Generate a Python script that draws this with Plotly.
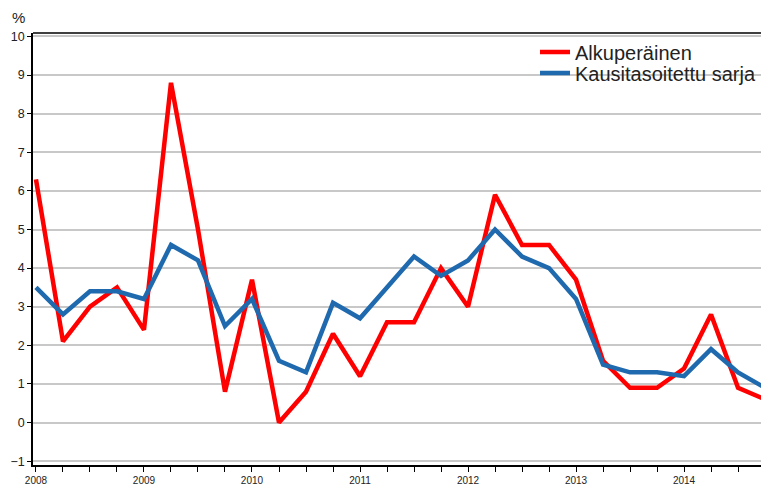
import plotly.graph_objects as go

years = ["2008", "2009", "2010", "2011", "2012", "2013", "2014"]
quarters = list(range(28))  # 2008Q1 .. 2014Q4
alkuperainen = [6.3, 2.1, 3.0, 3.5, 2.4, 8.8, 5.0, 0.8, 3.7, 0.0, 0.8, 2.3, 1.2, 2.6,
                2.6, 4.0, 3.0, 5.9, 4.6, 4.6, 3.7, 1.6, 0.9, 0.9, 1.4, 2.8, 0.9, 0.6]
kausitasoitettu = [3.5, 2.8, 3.4, 3.4, 3.2, 4.6, 4.2, 2.5, 3.2, 1.6, 1.3, 3.1, 2.7, 3.5,
                   4.3, 3.8, 4.2, 5.0, 4.3, 4.0, 3.2, 1.5, 1.3, 1.3, 1.2, 1.9, 1.3, 0.9]
y_ticks = list(range(-1, 11))

tick_text = []
for q in quarters:
    tick_text.append(years[q // 4] if q % 4 == 0 else "")

fig = go.Figure()
fig.add_trace(go.Scatter(x=quarters, y=alkuperainen, mode="lines", name="Alkuperäinen",
                         line=dict(color="#FF0000", width=4.5), legend="legend"))
fig.add_trace(go.Scatter(x=quarters, y=kausitasoitettu, mode="lines", name="Kausitasoitettu sarja",
                         line=dict(color="#1F69AE", width=4.5), legend="legend2"))

W = 728.0
H = 432.0
leg_x = (535 - 33) / W
leg_common = dict(xanchor="left", yanchor="middle", bgcolor="rgba(0,0,0,0)",
                  font=dict(size=20, color="#222222"), borderwidth=0)
fig.update_layout(
    width=761, height=486,
    margin=dict(l=33, r=0, t=33, b=21, autoexpand=False),
    paper_bgcolor="white", plot_bgcolor="white",
    font=dict(family="Liberation Sans, Arial, sans-serif", color="#222222"),
    showlegend=True,
    legend=dict(x=leg_x, y=(465 - 52) / H, **leg_common),
    legend2=dict(x=leg_x, y=(465 - 73) / H, **leg_common),
    xaxis=dict(range=[-0.11, 26.85], tickmode="array", tickvals=quarters, ticktext=tick_text,
               showgrid=False, zeroline=False, showline=True, linecolor="black", linewidth=1.5,
               ticks="outside", ticklen=5, tickcolor="black", tickwidth=1, automargin=False,
               tickfont=dict(size=10, color="#222222")),
    yaxis=dict(range=[-1.1, 10.09], tickmode="array", tickvals=y_ticks,
               showgrid=True, gridcolor="#C8C8C8", gridwidth=1.5, zeroline=False,
               showline=True, linecolor="black", linewidth=1.5, automargin=False,
               ticks="outside", ticklen=4, tickcolor="black",
               tickfont=dict(size=12.5, color="#222222")),
    shapes=[
        dict(type="rect", xref="paper", yref="paper", x0=(497 - 33) / W, x1=1.0,
             y0=(465 - 95) / H, y1=1.0, fillcolor="white", line=dict(width=0), layer="between"),
        dict(type="line", xref="paper", yref="paper", x0=0, x1=1, y0=1, y1=1,
             line=dict(color="black", width=1.5)),
    ],
    annotations=[
        dict(text="%", xref="paper", yref="paper", x=(10 - 33) / W, y=1 + 16 / H,
             xanchor="left", yanchor="middle", showarrow=False,
             font=dict(size=15, color="#222222")),
    ],
)

fig.write_html("out.html", config={"displayModeBar": False},
               post_script="document.body.style.margin='0px';"
               "document.body.style.overflow='hidden';")
